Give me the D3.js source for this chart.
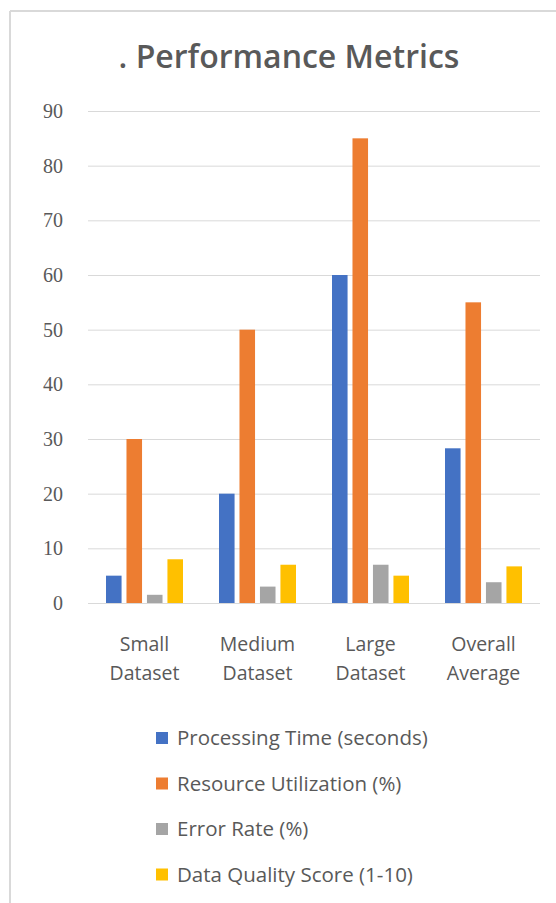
<!DOCTYPE html>
<html>
<head>
<meta charset="utf-8">
<script src="https://cdn.jsdelivr.net/npm/d3@7"></script>
<style>
  html, body { margin: 0; padding: 0; background: #ffffff; }
  svg { display: block; }
</style>
</head>
<body>
<svg id="chart" width="556" height="903"></svg>
<script>
// Chart data
const categories = [["Small", "Dataset"], ["Medium", "Dataset"], ["Large", "Dataset"], ["Overall", "Average"]];
const seriesNames = ["Processing Time (seconds)", "Resource Utilization (%)", "Error Rate (%)", "Data Quality Score (1-10)"];
const processingTime = [5, 20, 60, 28.3];
const resourceUtilization = [30, 50, 85, 55];
const errorRate = [1.5, 3, 7, 3.8];
const dataQuality = [8, 7, 5, 6.7];
const yTicks = [0, 10, 20, 30, 40, 50, 60, 70, 80, 90];
const colors = ["#4472C4", "#ED7D31", "#A5A5A5", "#FFC000"];
const titleText = ". Performance Metrics";

const seriesValues = [processingTime, resourceUtilization, errorRate, dataQuality];
const catKeys = categories.map(c => c.join(" "));

const svg = d3.select("#chart");
const textColor = "#595959";
const sansFont = "'Open Sans', Lato, sans-serif";
const serifFont = "'Liberation Serif', 'DejaVu Serif', serif";

// Chart frame (top and left edges visible)
svg.append("line").attr("x1", 10).attr("x2", 556).attr("y1", 11).attr("y2", 11)
  .attr("stroke", "#d9d9d9").attr("stroke-width", 2);
svg.append("line").attr("x1", 10).attr("x2", 10).attr("y1", 11).attr("y2", 903)
  .attr("stroke", "#d9d9d9").attr("stroke-width", 2);

// Title
svg.append("text")
  .attr("x", 289).attr("y", 68)
  .attr("text-anchor", "middle")
  .attr("font-family", sansFont)
  .attr("font-size", 32)
  .attr("font-weight", 600)
  .attr("fill", textColor)
  .text(titleText);

// Scales
const plotLeft = 88, plotRight = 540, plotTop = 111, plotBottom = 603;
const x0 = d3.scaleBand().domain(catKeys).range([plotLeft, plotRight]).padding(0);
const x1 = d3.scaleBand().domain(seriesNames).range([18, x0.bandwidth() - 18]).paddingInner(0.24).paddingOuter(0);
const y = d3.scaleLinear().domain([0, 90]).range([plotBottom, plotTop]);

// Gridlines and y tick labels
const yAxis = d3.axisLeft(y).tickValues(yTicks).tickSize(-(plotRight - plotLeft)).tickPadding(25);
const yG = svg.append("g").attr("transform", `translate(${plotLeft},0)`).call(yAxis);
yG.select(".domain").remove();
yG.selectAll(".tick line").attr("stroke", "#d9d9d9").attr("stroke-width", 1);
yG.selectAll(".tick text")
  .attr("font-family", serifFont)
  .attr("font-size", 20)
  .attr("fill", textColor);

// Bars
const groups = svg.append("g").selectAll("g")
  .data(catKeys)
  .join("g")
  .attr("transform", d => `translate(${x0(d)},0)`);

groups.selectAll("rect")
  .data((d, i) => seriesNames.map((s, j) => ({ series: s, value: seriesValues[j][i], color: colors[j] })))
  .join("rect")
  .attr("x", d => x1(d.series))
  .attr("width", x1.bandwidth())
  .attr("y", d => y(d.value))
  .attr("height", d => y(0) - y(d.value))
  .attr("fill", d => d.color);

// Category labels (two lines each)
const catLabels = svg.append("g");
categories.forEach((lines, i) => {
  const cx = x0(catKeys[i]) + x0.bandwidth() / 2;
  const t = catLabels.append("text")
    .attr("text-anchor", "middle")
    .attr("font-family", sansFont)
    .attr("font-size", 19.5)
    .attr("fill", textColor);
  lines.forEach((ln, k) => {
    t.append("tspan").attr("x", cx).attr("y", 651 + k * 29).text(ln);
  });
});

// Legend
const legend = svg.append("g");
seriesNames.forEach((name, i) => {
  const yy = 745 + i * 45.5;
  legend.append("rect")
    .attr("x", 156).attr("y", yy - 13)
    .attr("width", 12).attr("height", 12)
    .attr("fill", colors[i]);
  legend.append("text")
    .attr("x", 177).attr("y", yy)
    .attr("font-family", sansFont)
    .attr("font-size", 20.5)
    .attr("fill", textColor)
    .text(name);
});
</script>
</body>
</html>
